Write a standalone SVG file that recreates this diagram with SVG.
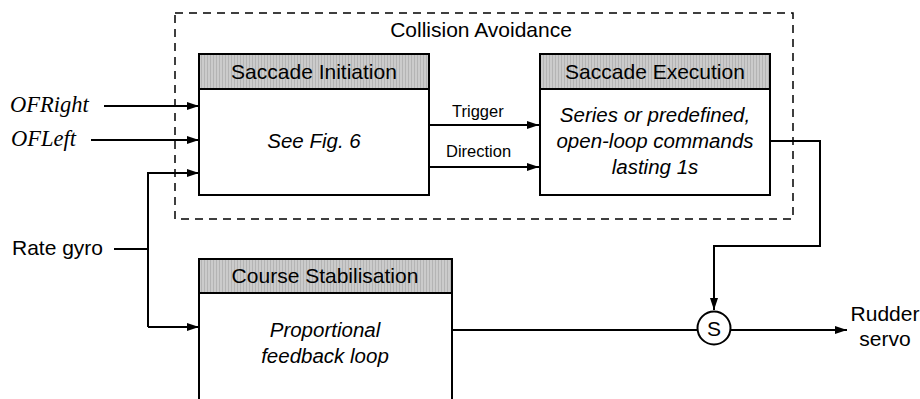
<svg xmlns="http://www.w3.org/2000/svg" width="920" height="399" viewBox="0 0 920 399">
  <defs>
    <pattern id="hatch" width="3" height="4" patternUnits="userSpaceOnUse">
      <rect width="3" height="4" fill="#cbcbcb"/>
      <rect x="0" width="1" height="4" fill="#b4b4b4"/>
    </pattern>
    <marker id="arrow" viewBox="0 0 12 8" refX="12" refY="4" markerWidth="12" markerHeight="8" markerUnits="userSpaceOnUse" orient="auto">
      <path d="M0,0 L12,4 L0,8 z" fill="#000"/>
    </marker>
  </defs>
  <style>
    text { font-family: "Liberation Sans", Arial, sans-serif; fill: #000; }
    .head { font-size: 21px; text-anchor: middle; }
    .body { font-size: 20.5px; font-style: italic; text-anchor: middle; }
    .lbl { font-size: 16.5px; }
    .sig { font-family: "Liberation Serif", "Times New Roman", serif; font-size: 22.5px; font-style: italic; }
    .box { fill: #fff; stroke: #000; stroke-width: 2; }
    .hdr { fill: url(#hatch); stroke: #000; stroke-width: 2; }
    .wire { fill: none; stroke: #000; stroke-width: 2; }
    .arr { marker-end: url(#arrow); }
  </style>

  <rect width="920" height="399" fill="#fff"/>

  <!-- Collision avoidance grouping -->
  <g id="collision-avoidance">
    <rect x="175" y="13" width="618" height="206" fill="none" stroke="#000" stroke-width="1.5" stroke-dasharray="8,6"/>
    <text x="481" y="37" class="head">Collision Avoidance</text>
  </g>

  <!-- Connectors -->
  <g id="connectors">
    <path class="wire arr" d="M104,106 H199"/>
    <path class="wire arr" d="M91,140 H199"/>
    <path class="wire arr" d="M148,327 V173 H199"/>
    <path class="wire" d="M114,249 H148"/>
    <path class="wire arr" d="M148,327 H199"/>
    <path class="wire arr" d="M429,125 H539"/>
    <path class="wire arr" d="M429,167 H539"/>
    <path class="wire arr" d="M770,141 H820 V246 H714 V310"/>
    <path class="wire" d="M452,330 H697"/>
    <path class="wire arr" d="M731,330 H847"/>
  </g>

  <!-- Input labels -->
  <g id="inputs">
    <text x="10" y="112" class="sig">OFRight</text>
    <text x="11" y="146" class="sig">OFLeft</text>
    <text x="12" y="255" style="font-size:21px">Rate gyro</text>
  </g>

  <g id="saccade-initiation">
    <rect x="199" y="89" width="230" height="106" class="box"/>
    <rect x="199" y="54" width="230" height="35" class="hdr"/>
    <text x="314" y="79" class="head">Saccade Initiation</text>
    <text x="314" y="148" class="body">See Fig. 6</text>
  </g>

  <g id="saccade-execution">
    <rect x="540" y="89" width="230" height="106" class="box"/>
    <rect x="540" y="54" width="230" height="35" class="hdr"/>
    <text x="655" y="79" class="head">Saccade Execution</text>
    <text x="655" y="122" class="body">Series or predefined,</text>
    <text x="655" y="148" class="body">open-loop commands</text>
    <text x="655" y="174" class="body">lasting 1s</text>
  </g>

  <g id="labels">
    <text x="452" y="117" class="lbl">Trigger</text>
    <text x="446" y="157" class="lbl">Direction</text>
  </g>

  <g id="course-stabilisation">
    <rect x="199" y="293" width="253" height="120" class="box"/>
    <rect x="199" y="259" width="253" height="34" class="hdr"/>
    <text x="325" y="283" class="head">Course Stabilisation</text>
    <text x="325" y="337" class="body">Proportional</text>
    <text x="325" y="363" class="body">feedback loop</text>
  </g>

  <g id="switch">
    <circle cx="714" cy="328" r="16.5" fill="#fff" stroke="#000" stroke-width="2"/>
    <text x="714" y="335.5" class="head">S</text>
  </g>

  <g id="rudder-servo">
    <text x="885" y="321" class="head">Rudder</text>
    <text x="885" y="346" class="head">servo</text>
  </g>
</svg>
